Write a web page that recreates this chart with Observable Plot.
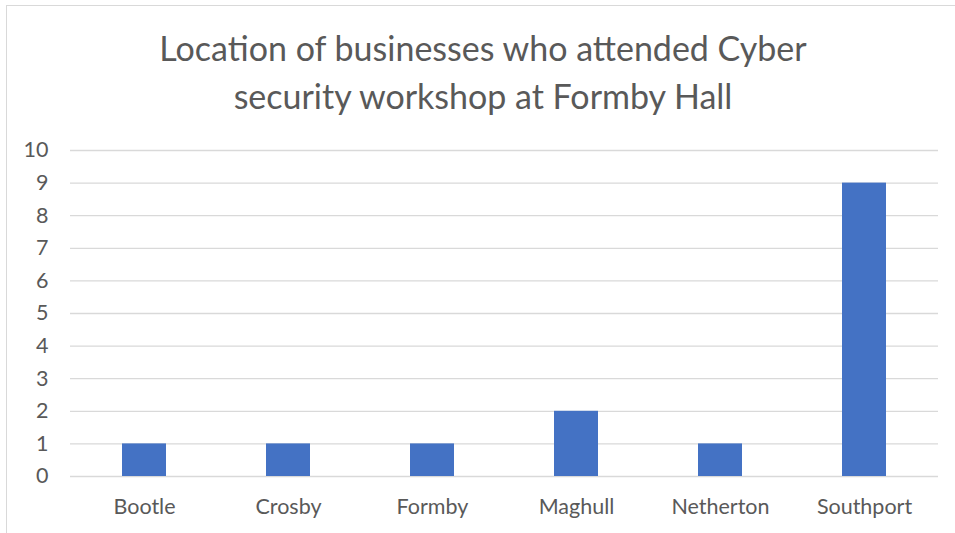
<!DOCTYPE html>
<html>
<head>
<meta charset="utf-8">
<script src="https://cdn.jsdelivr.net/npm/d3@7"></script>
<script src="https://cdn.jsdelivr.net/npm/@observablehq/plot@0.6"></script>
<style>
  html, body { margin: 0; padding: 0; background: #fff; }
  #chart { position: relative; width: 955px; height: 533px; overflow: hidden; background: #fff; }
  #frame { position: absolute; left: 6px; top: 5px; width: 970px; height: 560px; border: 1.5px solid #d9d9d9; box-sizing: border-box; }
  #title { position: absolute; left: 0; top: 24px; width: 966px; text-align: center; font-family: Lato, sans-serif; font-size: 34px; line-height: 48px; color: #595959; }
  #plot { position: absolute; left: 0; top: 130px; }
</style>
</head>
<body>
<div id="chart">
  <div id="frame"></div>
  <div id="title">Location of businesses who attended Cyber<br>security workshop at Formby Hall</div>
  <div id="plot"></div>
</div>
<script>
const categories = ["Bootle", "Crosby", "Formby", "Maghull", "Netherton", "Southport"];
const counts = [1, 1, 1, 2, 1, 9];
const yTicks = [0, 1, 2, 3, 4, 5, 6, 7, 8, 9, 10];

const data = categories.map((c, i) => ({location: c, count: counts[i]}));

const chart = Plot.plot({
  width: 955,
  height: 403,
  marginTop: 20,
  marginBottom: 57,
  marginLeft: 70,
  marginRight: 17,
  style: {fontFamily: "Lato, sans-serif", fontSize: "21.5px", color: "#595959", background: "transparent"},
  x: {domain: categories, paddingInner: 0.696, paddingOuter: 0.348, label: null, tickSize: 0, tickPadding: 22},
  y: {domain: [0, 10], ticks: yTicks, label: null, tickSize: 0, tickPadding: 22},
  marks: [
    Plot.gridY(yTicks, {stroke: "#d9d9d9", strokeOpacity: 1, strokeWidth: 1.3}),
    Plot.barY(data, {x: "location", y: "count", fill: "#4472c4"})
  ]
});
document.getElementById("plot").appendChild(chart);
</script>
</body>
</html>
